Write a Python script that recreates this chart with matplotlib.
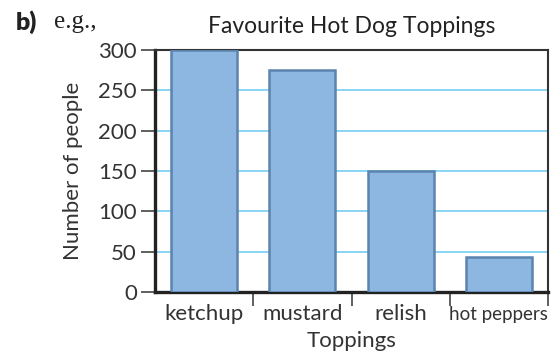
import matplotlib
matplotlib.use('Agg')
import matplotlib.pyplot as plt
import numpy as np

toppings = ['ketchup', 'mustard', 'relish', 'hot peppers']
people = [300, 275, 150, 43]
y_ticks = [0, 50, 100, 150, 200, 250, 300]

plt.rcParams['font.family'] = ['Lato', 'DejaVu Sans']

fig = plt.figure(figsize=(5.58, 3.57), dpi=100)
ax = fig.add_axes([155 / 558, 1 - 292 / 357, 393 / 558, 242 / 357])

x = np.arange(len(toppings))
ax.bar(x, people, width=0.67, color='#8db6e0', edgecolor='#5a84ad',
       linewidth=1.8, zorder=3)

ax.set_xlim(-0.5, 3.5)
ax.set_ylim(0, 300)
ax.set_yticks(y_ticks)
ax.set_yticklabels([str(v) for v in y_ticks], fontsize=16, color='#333333')
ax.yaxis.grid(True, color='#7fd3f2', linewidth=1.3, zorder=0)

# category names centred, ticks sit between categories
ax.set_xticks(np.arange(0.5, 4, 1.0))
ax.set_xticklabels([])
ax.set_xticks(x, minor=True)
ax.set_xticklabels(toppings[:3] + [''], minor=True, fontsize=16, color='#333333')
ax.tick_params(axis='x', which='minor', length=0, pad=8.5)
ax.tick_params(axis='x', which='major', length=10, width=1.2, color='#444444')
ax.tick_params(axis='y', length=10, width=1.2, color='#444444', pad=3)
ax.text(3, -17, 'hot peppers', fontsize=13.5, color='#333333', ha='center',
        va='top', transform=ax.transData)

for side in ['left', 'bottom']:
    ax.spines[side].set_linewidth(2.4)
    ax.spines[side].set_color('#222222')
for side in ['top', 'right']:
    ax.spines[side].set_linewidth(1.5)
    ax.spines[side].set_color('#333333')

ax.set_xlabel('Toppings', fontsize=16, color='#333333', labelpad=5)
ax.set_ylabel('Number of people', fontsize=16, color='#333333', labelpad=11)
fig.text(352 / 558, 1 - 33 / 357, 'Favourite Hot Dog Toppings', fontsize=16.5,
         color='#222222', ha='center', va='baseline')

fig.text(16 / 558, 1 - 22 / 357, 'b)', fontsize=18, fontweight='heavy',
         color='#222222', va='center')
fig.text(54 / 558, 1 - 22 / 357, 'e.g.,', fontsize=18, color='#222222',
         va='center', family='Liberation Serif')

fig.savefig('out.png', dpi=100)
